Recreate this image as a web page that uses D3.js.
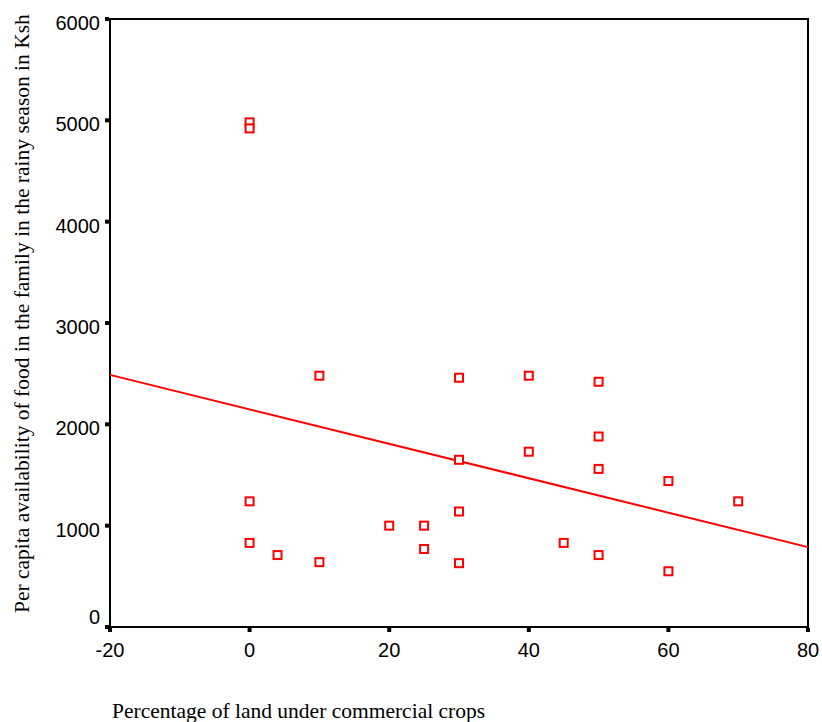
<!DOCTYPE html>
<html>
<head>
	<script src="https://d3js.org/d3.v7.min.js"></script>
	<style>
		body { margin: 0; background: #fff; }
		svg { background-color: white; }
		.tick-label { font-family: Arial, "Liberation Sans", sans-serif; font-size: 20px; fill: #000; }
		.axis-title { font-family: "Times New Roman", "Liberation Serif", serif; font-size: 21.5px; fill: #000; }
		.point { fill: white; stroke: red; stroke-width: 2px; }
		.fit { stroke: red; stroke-width: 2px; fill: none; }
	</style>
</head>
<body>
<svg class="scatter" width="822" height="722"></svg>

<script>
// Data
var landPct = [0, 0, 0, 0, 4, 10, 10, 20, 25, 25, 30, 30, 30, 30, 40, 40, 45, 50, 50, 50, 50, 60, 60, 70];
var foodKsh = [4980, 4920, 1240, 830, 710, 640, 2480, 1000, 1000, 770, 2460, 1650, 1140, 630, 2480, 1730, 830, 2420, 1880, 1560, 710, 1440, 550, 1240];
var xTicks = [-20, 0, 20, 40, 60, 80];
var yTicks = [0, 1000, 2000, 3000, 4000, 5000, 6000];
// fitted line: food = fitIntercept + fitSlope * pct
var fitIntercept = 2148;
var fitSlope = -17;

var svg = d3.select(".scatter");

var plotLeft = 110, plotRight = 808, plotTop = 19, plotBottom = 627;

var x = d3.scaleLinear().domain([-20, 80]).range([plotLeft, plotRight]);
var y = d3.scaleLinear().domain([0, 6000]).range([plotBottom, plotTop]);

// frame
svg.append("rect")
	.attr("x", plotLeft)
	.attr("y", plotTop)
	.attr("width", plotRight - plotLeft)
	.attr("height", plotBottom - plotTop)
	.attr("fill", "none")
	.attr("stroke", "black")
	.attr("stroke-width", 2);

// x ticks
svg.selectAll(".xtick")
	.data(xTicks)
	.enter().append("rect")
	.attr("class", "xtick")
	.attr("x", function(d) { return x(d) - 2; })
	.attr("y", plotBottom + 1)
	.attr("width", 4)
	.attr("height", 4)
	.attr("fill", "black");

svg.selectAll(".xlabel")
	.data(xTicks)
	.enter().append("text")
	.attr("class", "tick-label")
	.attr("x", function(d) { return x(d); })
	.attr("y", 657)
	.attr("text-anchor", "middle")
	.text(function(d) { return d; });

// y ticks
svg.selectAll(".ytick")
	.data(yTicks)
	.enter().append("rect")
	.attr("class", "ytick")
	.attr("x", plotLeft - 5)
	.attr("y", function(d) { return y(d) - 2; })
	.attr("width", 4)
	.attr("height", 4)
	.attr("fill", "black");

svg.selectAll(".ylabel")
	.data(yTicks)
	.enter().append("text")
	.attr("class", "tick-label")
	.attr("x", 100)
	.attr("y", function(d) { return d == 0 ? y(d) - 3 : y(d) + 11; })
	.attr("text-anchor", "end")
	.text(function(d) { return d; });

// regression line
var fitLine = d3.line()
	.x(function(d) { return x(d); })
	.y(function(d) { return y(fitIntercept + fitSlope * d); });

svg.append("path")
	.datum(x.domain())
	.attr("class", "fit")
	.attr("d", fitLine);

// points
svg.selectAll(".point")
	.data(landPct)
	.enter().append("rect")
	.attr("class", "point")
	.attr("x", function(d) { return x(d) - 4; })
	.attr("y", function(d, i) { return y(foodKsh[i]) - 4; })
	.attr("width", 8)
	.attr("height", 8);

// axis titles
svg.append("text")
	.attr("class", "axis-title")
	.attr("x", 112)
	.attr("y", 718)
	.text("Percentage of land under commercial crops");

svg.append("text")
	.attr("class", "axis-title")
	.attr("transform", "translate(29,613) rotate(-90)")
	.text("Per capita availability of food in the family in the rainy season in Ksh");
</script>
</body>
</html>
